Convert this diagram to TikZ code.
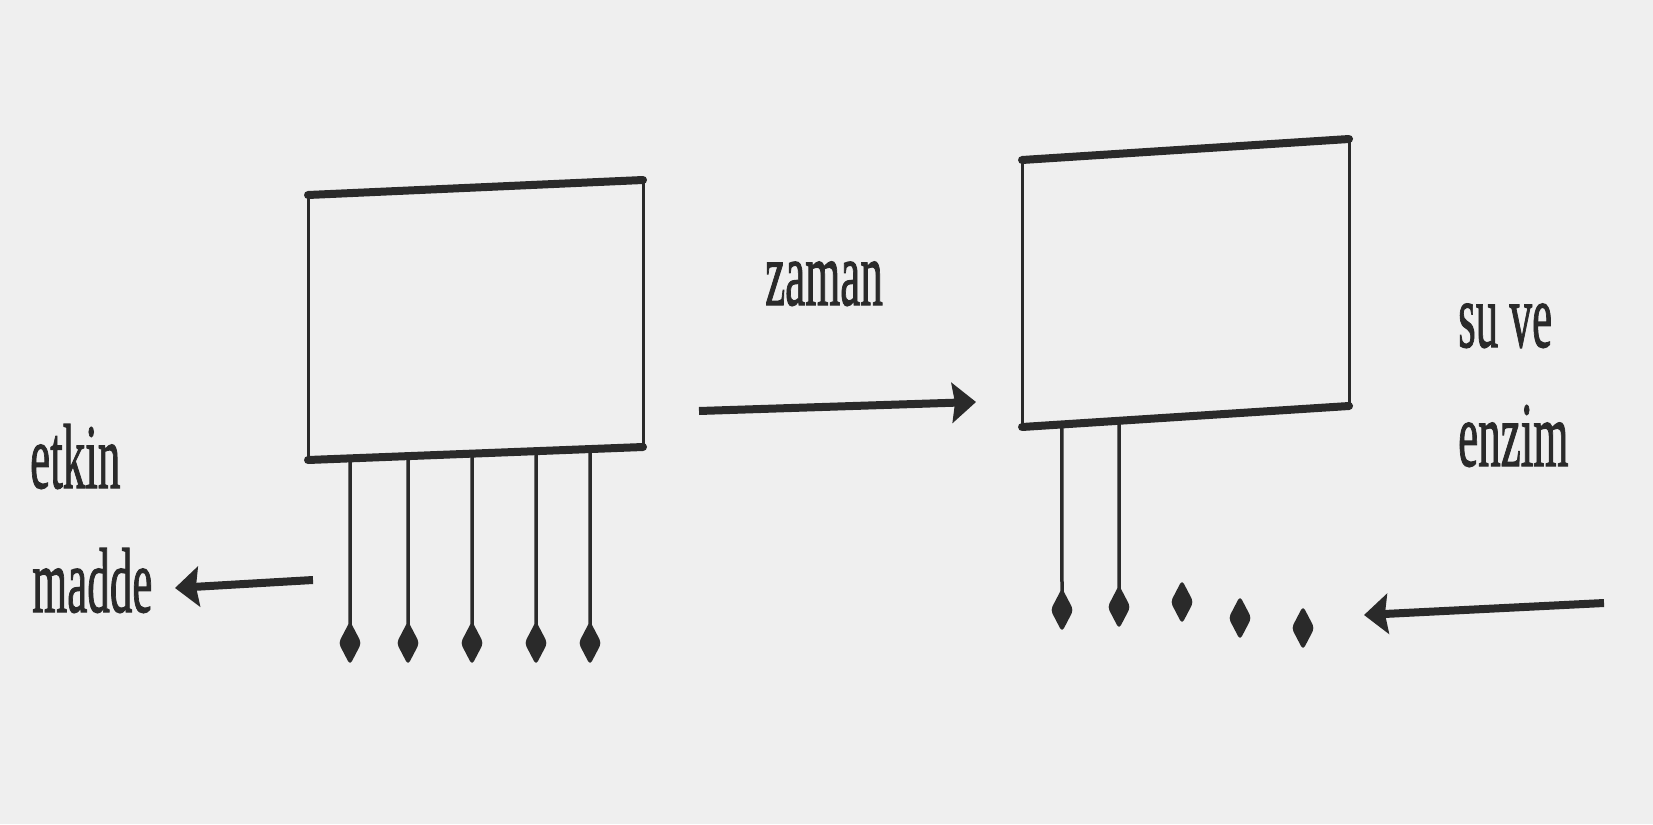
\documentclass[tikz,border=0pt]{standalone}
\usepackage{fontspec}
\setmainfont{Liberation Serif}
\newfontfamily\scanfont{Liberation Serif}[FakeBold=1.5]
\usetikzlibrary{arrows.meta,shapes.geometric,calc}
\definecolor{paper}{HTML}{EFEFEF}
\definecolor{ink}{HTML}{2A2A2A}
\tikzset{
  lbl/.style={inner sep=0pt, anchor=base west, text=ink, font=\scanfont\fontsize{92}{110}\selectfont},
  side/.style={draw=ink, line width=3pt},
  rim/.style={draw=ink, line width=8pt, line cap=round},
  stem/.style={draw=ink, line width=3.5pt},
  blob/.style={diamond, fill=ink, draw=none, inner sep=0pt, minimum width=23pt, minimum height=44pt, rounded corners=4pt},
  flow/.style={draw=ink, line width=8pt, -{Stealth[length=24pt, width=40pt, inset=3pt]}}
}
\newcommand{\sq}[1]{\scalebox{0.49}[1]{#1}}
\begin{document}
\begin{tikzpicture}[x=1pt, y=-1pt]
\useasboundingbox (0,0) rectangle (1653,824);
\fill[paper] (0,0) rectangle (1653,824);

% left box corners
\coordinate (ATL) at (308,195);
\coordinate (ATR) at (643,180);
\coordinate (ABL) at (308,460);
\coordinate (ABR) at (643,447);
\draw[side] (ATL) -- (ABL);
\draw[side] (ATR) -- (ABR);
\draw[rim] (ATL) -- (ATR);
\draw[rim] (ABL) -- (ABR);

% right box corners
\coordinate (BTL) at (1022,160);
\coordinate (BTR) at (1349,139);
\coordinate (BBL) at (1022,427);
\coordinate (BBR) at (1349,406);
\draw[side] (BTL) -- (BBL);
\draw[side] (BTR) -- (BBR);
\draw[rim] (BTL) -- (BTR);
\draw[rim] (BBL) -- (BBR);

% left dots with stems
\foreach \i/\x in {1/350,2/408,3/472,4/536,5/590}{
  \node[blob] (L\i) at (\x,643) {};
  \pgfmathsetmacro{\f}{(\x-308)/335}
  \coordinate (LS\i) at ($(ABL)!\f!(ABR)$);
  \draw[stem] (LS\i) -- (L\i.center);
}
% right dots
\node[blob] (R1) at (1062,610) {};
\node[blob] (R2) at (1119,607) {};
\node[blob] (R3) at (1182,602) {};
\node[blob] (R4) at (1240,618) {};
\node[blob] (R5) at (1303,628) {};
\coordinate (RS1) at ($(BBL)!0.122!(BBR)$);
\coordinate (RS2) at ($(BBL)!0.297!(BBR)$);
\draw[stem] (RS1) -- (R1.center);
\draw[stem] (RS2) -- (R2.center);

% labels
\node[lbl] (etkin) at (30,488) {\sq{etkin}};
\node[lbl] (madde) at (32,612) {\sq{madde}};
\node[lbl] (zaman) at (765,305) {\sq{zaman}};
\node[lbl] (suve) at (1458,347) {\sq{su ve}};
\node[lbl] (enzim) at (1458,466) {\sq{enzim}};

% arrows
\coordinate (m0) at (313,580);
\coordinate (m1) at (175,588);
\draw[flow] (m0) -- (m1);
\coordinate (z0) at (699,411);
\coordinate (z1) at (976,402);
\draw[flow] (z0) -- (z1);
\coordinate (s0) at (1604,603);
\coordinate (s1) at (1364,615);
\draw[flow] (s0) -- (s1);
\end{tikzpicture}
\end{document}
